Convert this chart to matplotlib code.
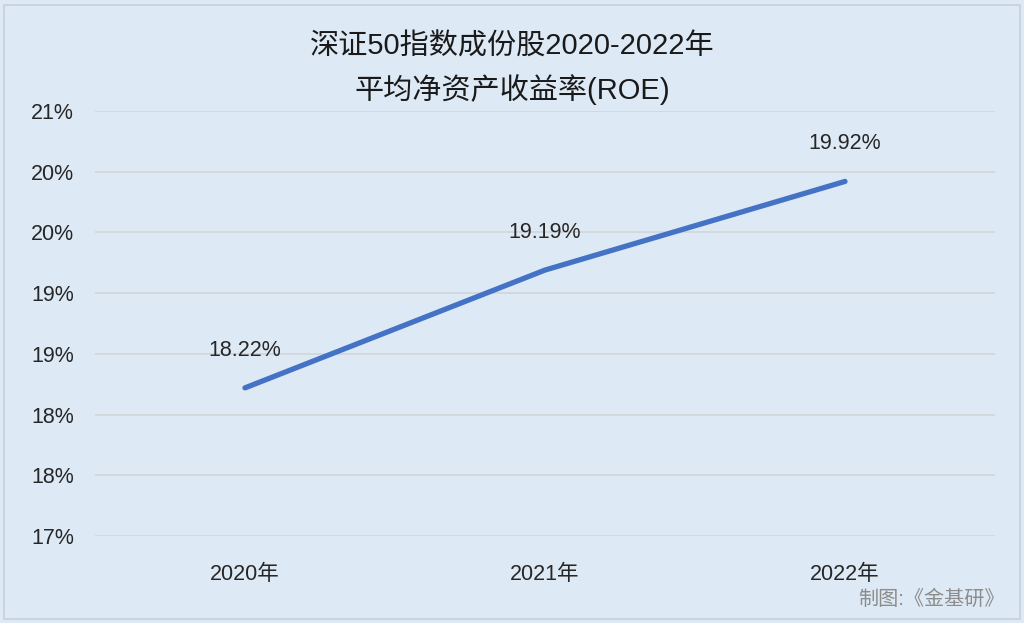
import matplotlib.pyplot as plt
from matplotlib.patches import Rectangle
from matplotlib.ticker import FixedLocator

plt.rcParams['font.family'] = ['Liberation Sans', 'Noto Sans CJK SC', 'DejaVu Sans']

# dados
anos = ['2020年', '2021年', '2022年']
roe = [18.22, 19.19, 19.92]
rotulos = ['18.22%', '19.19%', '19.92%']
yticks = [17.0, 17.5, 18.0, 18.5, 19.0, 19.5, 20.0, 20.5]
ytick_labels = ['17%', '18%', '18%', '19%', '19%', '20%', '20%', '21%']

fundo = '#dde9f5'
azul = '#4472c4'

fig = plt.figure(figsize=(10.24, 6.23), dpi=100, facecolor=fundo)
# moldura do grafico
fig.patches.append(Rectangle((0.004, 0.006), 0.992, 0.986, transform=fig.transFigure,
                             facecolor='none', edgecolor='#c9cfd6', linewidth=1.2))

ax = fig.add_axes([95 / 1024, 1 - 536 / 623, 900 / 1024, 425 / 623])
ax.set_facecolor(fundo)

x = list(range(len(anos)))
ax.plot(x, roe, color=azul, linewidth=3.8, solid_capstyle='round', zorder=3)

for xi, yi, txt in zip(x, roe, rotulos):
    ax.annotate(txt, (xi, yi), xytext=(0, 27), textcoords='offset points',
                ha='center', va='center', fontsize=15.5, color='#262626')

ax.set_xlim(-0.5, 2.5)
ax.set_ylim(17.0, 20.5)
ax.yaxis.set_major_locator(FixedLocator(yticks))
ax.set_yticklabels(ytick_labels)
ax.set_xticks(x)
ax.set_xticklabels(anos)
ax.tick_params(axis='both', length=0, labelsize=15.5, colors='#262626')
ax.tick_params(axis='y', pad=15)
ax.tick_params(axis='x', pad=20)
ax.grid(axis='y', color='#d3d7db', linewidth=1.3)
ax.set_axisbelow(True)
for s in ax.spines.values():
    s.set_visible(False)

fig.text(0.5, 1 - 47 / 623, '深证50指数成份股2020-2022年', ha='center', va='center',
         fontsize=21, color='#1a1a1a')
fig.text(0.5, 1 - 90 / 623, '平均净资产收益率(ROE)', ha='center', va='center',
         fontsize=21, color='#1a1a1a')
fig.text(1005 / 1024, 1 - 599 / 623, '制图:《金基研》', ha='right', va='center',
         fontsize=14.5, color='#8c8c8c')

plt.savefig('out.png', dpi=100, facecolor=fundo)
